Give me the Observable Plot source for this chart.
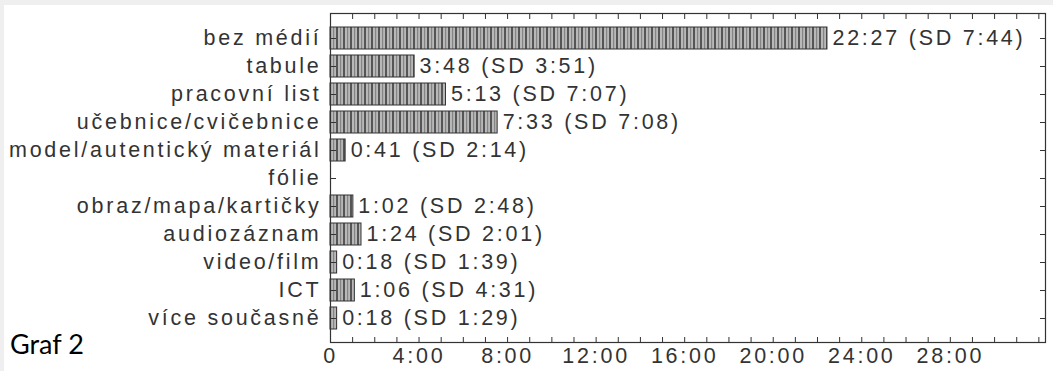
<!DOCTYPE html>
<html><head><meta charset="utf-8">
<script src="https://cdn.jsdelivr.net/npm/d3@7"></script>
<script src="https://cdn.jsdelivr.net/npm/@observablehq/plot@0.6"></script>
<style>
html,body{margin:0;padding:0;background:#efefef;width:1053px;height:371px;overflow:hidden}
#paper{position:absolute;left:4px;top:5px;width:1049px;height:366px;background:#fff}
#chart{position:absolute;left:0;top:0}
#graf{position:absolute;left:10px;top:327px;font-family:Lato,"Open Sans",sans-serif;font-size:27px;color:#000}
</style></head><body>
<div id="paper"></div>
<svg width="0" height="0" style="position:absolute"><defs>
<pattern id="stripes" patternUnits="userSpaceOnUse" width="7" height="8">
<rect width="7" height="8" fill="#b8b8b8"/>
<rect x="0" width="2" height="8" fill="#555"/>
<rect x="4" width="1.2" height="8" fill="#858585"/>
</pattern></defs></svg>
<div id="chart"></div>
<div id="graf">Graf 2</div>
<script>
const categories = ["bez médií","tabule","pracovní list","učebnice/cvičebnice","model/autentický materiál","fólie","obraz/mapa/kartičky","audiozáznam","video/film","ICT","více současně"];
const means = ["22:27","3:48","5:13","7:33","0:41",null,"1:02","1:24","0:18","1:06","0:18"];
const sds = ["7:44","3:51","7:07","7:08","2:14",null,"2:48","2:01","1:39","4:31","1:29"];
const tickValues = [0,4,8,12,16,20,24,28];
const tickLabels = ["0","4:00","8:00","12:00","16:00","20:00","24:00","28:00"];
const minorTicks = d3.range(0, 33);

const toMin = s => { const [m, sec] = s.split(":").map(Number); return m + sec / 60; };
const data = categories.map((c, i) => ({
  cat: c,
  value: means[i] == null ? 0 : toMin(means[i]),
  label: means[i] == null ? null : `${means[i]} (SD ${sds[i]})`
}));

const ink = "#333";
const chart = Plot.plot({
  width: 1053, height: 371,
  marginLeft: 330, marginRight: 8, marginTop: 13, marginBottom: 29,
  style: {fontFamily: "'Liberation Sans', Arial, sans-serif", fontSize: "21.5px", color: ink, letterSpacing: "2.75px", background: "transparent"},
  x: {domain: [0, 32.3]},
  y: {domain: categories, padding: 0.2, insetTop: 8.2, insetBottom: 6.5},
  marks: [
    Plot.barX(data.filter(d => d.label), {x: "value", y: "cat", fill: "url(#stripes)", stroke: ink, strokeWidth: 1}),
    Plot.text(data.filter(d => d.label), {x: "value", y: "cat", text: "label", textAnchor: "start", dx: 5, fill: ink}),
    Plot.frame({stroke: ink, strokeWidth: 1.2}),
    Plot.axisX({anchor: "bottom", ticks: minorTicks, tickSize: -5, fill: "none", label: null, stroke: ink}),
    Plot.axisX({anchor: "top", ticks: minorTicks, tickSize: -5, fill: "none", label: null, stroke: ink}),
    Plot.axisX({anchor: "bottom", ticks: tickValues, tickSize: 0, tickPadding: 5, label: null,
      tickFormat: d => tickLabels[tickValues.indexOf(d)], fill: ink}),
    Plot.axisY({anchor: "left", tickSize: -6, fill: "none", label: null, stroke: ink}),
    Plot.axisY({anchor: "right", tickSize: -6, fill: "none", label: null, stroke: ink}),
    Plot.axisY({anchor: "left", tickSize: 0, tickPadding: 9, label: null, fill: ink})
  ]
});
document.getElementById("chart").append(chart);
</script>
</body></html>
